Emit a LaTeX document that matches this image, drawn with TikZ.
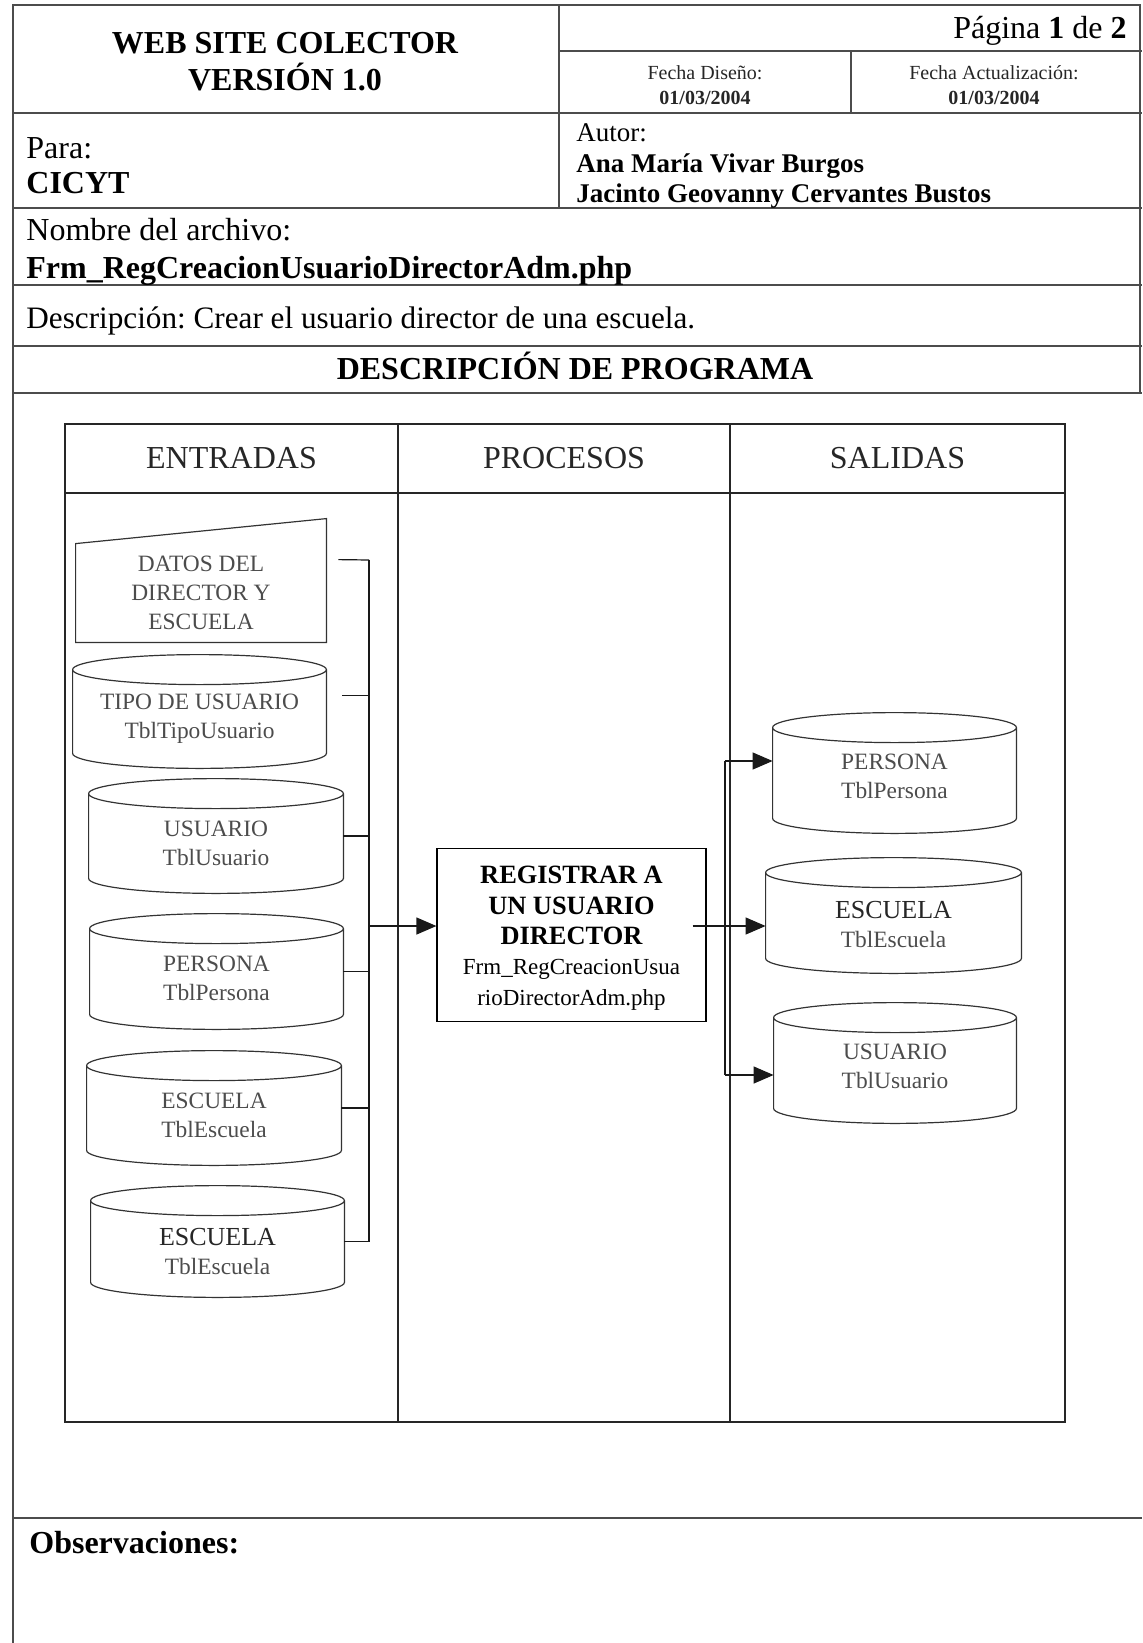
\documentclass[tikz,border=0pt]{standalone}
\usepackage{fontspec}
\setmainfont{Liberation Serif}
\frenchspacing
\usetikzlibrary{positioning,arrows.meta,calc}

% data table drawn round a node
\newcommand{\dbcyl}[1]{%
  \draw[cylline] let \p1=(#1.north west), \p2=(#1.south east), \p3=($(#1.east)-(#1.center)$) in
    (\x1,\y1-7.5pt) -- (\x1,\y2+7.5pt)
    arc[start angle=180,end angle=360,x radius=\x3,y radius=7.5pt]
    -- (\x2,\y1-7.5pt)
    (\x1,\y1-7.5pt) arc[start angle=180,end angle=-180,x radius=\x3,y radius=7.5pt];}
% pushes the label of a table below its lid
\newcommand{\lid}[1][15pt]{\rule{0pt}{#1}}

\begin{document}
\begin{tikzpicture}[x=0.5pt,y=-0.5pt,
    frame/.style={line width=1.1pt,draw=black!70},
    grid/.style={line width=0.6pt,draw=black!85},
    wire/.style={line width=0.6pt,draw=black!90},
    flow/.style={wire,-{Triangle[length=10pt,width=8.5pt]}},
    cylline/.style={line width=0.6pt,draw=black!80},
    big/.style={inner sep=0pt,font=\fontsize{16}{19}\selectfont},
    mid/.style={inner sep=0pt,font=\fontsize{13.5}{16}\selectfont},
    tiny/.style={inner sep=0pt,align=center,font=\fontsize{10}{12.5}\selectfont},
    colhead/.style={inner sep=0pt,text=black!85,font=\fontsize{16}{19}\selectfont},
    db/.style={rectangle,inner sep=0pt,align=center,text=black!70,
      font=\fontsize{11.7}{14.5}\selectfont},
    procbox/.style={draw,line width=0.6pt,inner sep=0pt,align=center,
      minimum width=134.5pt,minimum height=86.5pt,font=\fontsize{11.5}{15.2}\selectfont}]
  \useasboundingbox (0,0) rectangle (1142,1643);

  % page frame
  \draw[frame] (13,1643) -- (13,5) -- (1140,5) -- (1140,393);
  \foreach \y in {113,208,285,346,393,1518}
    \draw[frame] (13,\y) -- (1142,\y);
  \draw[frame] (559,5) -- (559,208);
  \draw[frame] (559,51) -- (1142,51);
  \draw[frame] (851,51) -- (851,113);

  % header texts
  \node[big,align=center,font=\bfseries\fontsize{16}{18.5}\selectfont] (title) at (285,62)
    {WEB SITE COLECTOR\\VERSIÓN 1.0};
  \node[big,anchor=base east] (pag) at (1127,38.5) {Página \textbf{1} de \textbf{2}};
  \node[tiny,text=black!85] (fdis) at (705,85) {Fecha Diseño:\\\textbf{01/03/2004}};
  \node[tiny,text=black!85] (fact) at (994,85) {Fecha Actualización:\\\textbf{01/03/2004}};
  \node[big,anchor=base west] (para) at (26,158.5) {Para:};
  \node[big,anchor=base west,font=\bfseries\fontsize{16}{19}\selectfont] (cicyt) at (26,193.5) {CICYT};
  \node[mid,anchor=base west] (autor) at (576,141) {Autor:};
  \node[mid,anchor=base west,font=\bfseries\fontsize{13.5}{16}\selectfont] (aut1) at (576,172) {Ana María Vivar Burgos};
  \node[mid,anchor=base west,font=\bfseries\fontsize{13.5}{16}\selectfont] (aut2) at (576,202) {Jacinto Geovanny Cervantes Bustos};
  \node[big,anchor=base west] (nomb) at (26,240) {Nombre del archivo:};
  \node[big,anchor=base west,font=\bfseries\fontsize{16}{19}\selectfont] (arch) at (26,278.5) {Frm\_RegCreacionUsuarioDirectorAdm.php};
  \node[big,anchor=base west,font=\fontsize{15.6}{19}\selectfont] (desc) at (26,328.5) {Descripción: Crear el usuario director de una escuela.};
  \node[big,font=\bfseries\fontsize{16}{19}\selectfont,anchor=base] (prog) at (575,379.5) {DESCRIPCIÓN DE PROGRAMA};
  \node[big,anchor=base west,font=\bfseries\fontsize{16}{19}\selectfont] (obs) at (29,1553) {Observaciones:};

  % columns
  \draw[grid] (65,424) rectangle (1065,1422);
  \draw[grid] (65,493) -- (1065,493);
  \draw[grid] (398,424) -- (398,1422);
  \draw[grid] (730,424) -- (730,1422);
  \node[colhead] (hent) at (231.5,458.5) {ENTRADAS};
  \node[colhead] (hpro) at (564,458.5) {PROCESOS};
  \node[colhead] (hsal) at (897.5,458.5) {SALIDAS};

  % inputs
  \node[db,minimum width=125pt,minimum height=49pt] (datos) at (201,593)
    {DATOS DEL\\DIRECTOR Y\\ESCUELA};
  \draw[cylline] (datos.south west) -- (datos.north west)
    -- ($(datos.north east)+(0,12.5pt)$) -- (datos.south east) -- cycle;
  \node[db,minimum width=126.5pt,minimum height=56.5pt] (tipo) at (199.5,711.5)
    {\lid TIPO DE USUARIO\\TblTipoUsuario};
  \node[db,minimum width=127pt,minimum height=57pt] (usu) at (216,836)
    {\lid USUARIO\\TblUsuario};
  \node[db,minimum width=126.5pt,minimum height=57.5pt] (per) at (216.5,971.5)
    {\lid PERSONA\\TblPersona};
  \node[db,minimum width=127pt,minimum height=57pt] (esc) at (214,1108)
    {\lid ESCUELA\\TblEscuela};
  \node[db,minimum width=126.5pt,minimum height=55.5pt] (escb) at (217.5,1241.5)
    {{\color{black!85}\fontsize{13}{15}\selectfont\lid[19pt]ESCUELA}\\TblEscuela};

  % process
  \node[procbox] (proc) at (571.5,935)
    {{\bfseries\fontsize{13.2}{15.2}\selectfont\rule{0pt}{12pt}REGISTRAR A}\\
     {\bfseries\fontsize{13.2}{15.2}\selectfont UN USUARIO}\\
     {\bfseries\fontsize{13.2}{15.2}\selectfont DIRECTOR}\\
     Frm\_RegCreacionUsua\\rioDirectorAdm.php};

  % outputs
  \node[db,minimum width=121.5pt,minimum height=60pt] (oper) at (894.5,773)
    {\lid[11pt]PERSONA\\TblPersona};
  \node[db,minimum width=127.5pt,minimum height=57.5pt] (oesc) at (893.5,915.5)
    {{\color{black!85}\fontsize{13}{15}\selectfont\lid[18pt]ESCUELA}\\TblEscuela};
  \node[db,minimum width=121pt,minimum height=60pt] (ousu) at (895,1063)
    {\lid[11pt]USUARIO\\TblUsuario};

  \foreach \tb in {tipo,usu,per,esc,escb,oper,oesc,ousu}
    \dbcyl{\tb};

  % bus into the process
  \coordinate (bustop) at (369,560);
  \coordinate (split) at (725,930);
  \coordinate (pio) at ($(proc.center)+(0,4.5pt)$);
  \draw[wire] ($(datos.north east)+(6pt,-8pt)$) -- (bustop);
  \draw[wire] ($(tipo.east)+(8pt,8pt)$) coordinate (t1) -- (t1 -| bustop);
  \foreach \tb in {usu,per,esc,escb}
    \draw[wire] (\tb.east) -- (\tb.east -| bustop);
  \draw[wire] (bustop) -- (escb.east -| bustop);
  \draw[flow] (pio -| bustop) -- (pio -| proc.west);

  % fan out to the tables
  \coordinate (o1) at ($(oper.west)+(0,6pt)$);
  \coordinate (o3) at ($(ousu.west)+(0,-6pt)$);
  \draw[flow] ($(pio -| proc.east)+(-7pt,0)$) -- (pio -| oesc.west);
  \draw[wire] (o1 -| split) -- (o3 -| split);
  \draw[flow] (o1 -| split) -- (o1);
  \draw[flow] (o3 -| split) -- (o3);
\end{tikzpicture}
\end{document}
